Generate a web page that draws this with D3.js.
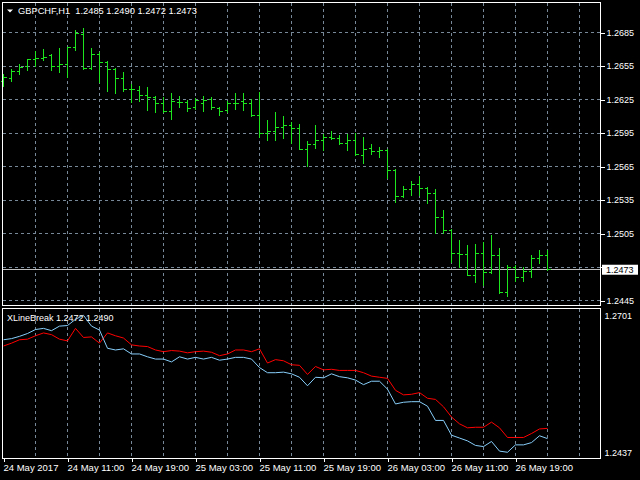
<!DOCTYPE html>
<html>
<head>
<meta charset="utf-8">
<script src="https://cdn.jsdelivr.net/npm/d3@7/dist/d3.min.js"></script>
<style>
  html, body { margin: 0; padding: 0; background: #000; }
  svg { display: block; }
  text { font-family: 'Liberation Sans', Arial, sans-serif; fill: #fff; }
</style>
</head>
<body>
<svg id="chart" width="640" height="480"></svg>
<script>
/* ---- data ---- */
const symbol = 'GBPCHF,H1';

const opens = [
  1.2641, 1.2644, 1.2650, 1.2655, 1.2661, 1.2662, 1.2664, 1.2655, 1.2656, 1.2672,
  1.2683, 1.2653, 1.2665, 1.2658, 1.2652, 1.2644, 1.2634, 1.2633, 1.2629, 1.2627,
  1.2621, 1.2614, 1.2622, 1.2622, 1.2618, 1.2621, 1.2625, 1.2617, 1.2615, 1.2621,
  1.2623, 1.2621, 1.2611, 1.2595, 1.2596, 1.2600, 1.2602, 1.2599, 1.2580, 1.2585,
  1.2588, 1.2591, 1.2590, 1.2586, 1.2588, 1.2575, 1.2581, 1.2578, 1.2579, 1.2561,
  1.2538, 1.2544, 1.2549, 1.2545, 1.2541, 1.2519, 1.2508, 1.2487, 1.2486, 1.2467,
  1.2487, 1.2470, 1.2485, 1.2452, 1.2475, 1.2466, 1.2471, 1.2483, 1.2485
];
const highs = [
  1.2647, 1.2652, 1.2656, 1.2661, 1.2668, 1.2670, 1.2665, 1.2671, 1.2672, 1.2687,
  1.2689, 1.2671, 1.2667, 1.2659, 1.2653, 1.2649, 1.2638, 1.2637, 1.2636, 1.2628,
  1.2627, 1.2630, 1.2628, 1.2624, 1.2626, 1.2628, 1.2627, 1.2618, 1.2623, 1.2630,
  1.2630, 1.2625, 1.2631, 1.2606, 1.2613, 1.2610, 1.2604, 1.2603, 1.2587, 1.2602,
  1.2594, 1.2596, 1.2593, 1.2594, 1.2595, 1.2591, 1.2585, 1.2582, 1.2580, 1.2562,
  1.2547, 1.2552, 1.2556, 1.2546, 1.2544, 1.2526, 1.2509, 1.2499, 1.2494, 1.2495,
  1.2497, 1.2503, 1.2492, 1.2476, 1.2476, 1.2475, 1.2485, 1.2490, 1.2490
];
const lows = [
  1.2637, 1.2641, 1.2647, 1.2651, 1.2655, 1.2660, 1.2651, 1.2649, 1.2645, 1.2669,
  1.2652, 1.2652, 1.2640, 1.2632, 1.2630, 1.2632, 1.2622, 1.2623, 1.2615, 1.2613,
  1.2613, 1.2607, 1.2618, 1.2614, 1.2616, 1.2614, 1.2616, 1.2611, 1.2613, 1.2616,
  1.2615, 1.2610, 1.2591, 1.2588, 1.2588, 1.2590, 1.2586, 1.2580, 1.2565, 1.2581,
  1.2579, 1.2589, 1.2585, 1.2579, 1.2575, 1.2568, 1.2576, 1.2573, 1.2554, 1.2533,
  1.2537, 1.2539, 1.2539, 1.2532, 1.2505, 1.2505, 1.2479, 1.2475, 1.2467, 1.2461,
  1.2458, 1.2469, 1.2451, 1.2449, 1.2462, 1.2462, 1.2466, 1.2478, 1.2472
];
const closes = [
  1.2645, 1.2650, 1.2654, 1.2661, 1.2662, 1.2663, 1.2655, 1.2656, 1.2672, 1.2684,
  1.2653, 1.2665, 1.2658, 1.2652, 1.2644, 1.2634, 1.2634, 1.2629, 1.2627, 1.2621,
  1.2614, 1.2623, 1.2622, 1.2617, 1.2624, 1.2624, 1.2618, 1.2614, 1.2621, 1.2621,
  1.2621, 1.2611, 1.2595, 1.2596, 1.2600, 1.2602, 1.2599, 1.2580, 1.2585, 1.2588,
  1.2591, 1.2590, 1.2586, 1.2588, 1.2576, 1.2580, 1.2578, 1.2579, 1.2561, 1.2538,
  1.2544, 1.2549, 1.2545, 1.2541, 1.2519, 1.2508, 1.2487, 1.2486, 1.2467, 1.2487,
  1.2470, 1.2485, 1.2452, 1.2475, 1.2466, 1.2471, 1.2483, 1.2485, 1.2473
];

// XLineBreak buffers
const lineBlue = [
  1.2646, 1.2648, 1.2652, 1.2657, 1.2664, 1.2666, 1.2662, 1.2670, 1.2671, 1.2682,
  1.2689, 1.2670, 1.2663, 1.2631, 1.2628, 1.2630, 1.2621, 1.2621, 1.2616, 1.2612,
  1.2612, 1.2607, 1.2616, 1.2612, 1.2615, 1.2612, 1.2615, 1.2610, 1.2612, 1.2615,
  1.2615, 1.2612, 1.2597, 1.2588, 1.2588, 1.2589, 1.2586, 1.2580, 1.2565, 1.2580,
  1.2579, 1.2586, 1.2581, 1.2579, 1.2575, 1.2567, 1.2573, 1.2573, 1.2559, 1.2533,
  1.2536, 1.2537, 1.2537, 1.2529, 1.2504, 1.2504, 1.2478, 1.2473, 1.2468, 1.2460,
  1.2458, 1.2467, 1.2450, 1.2448, 1.2461, 1.2461, 1.2465, 1.2477, 1.2472
];
const lineRed = [
  1.2635, 1.2640, 1.2646, 1.2647, 1.2653, 1.2658, 1.2655, 1.2647, 1.2644, 1.2666,
  1.2650, 1.2651, 1.2640, 1.2658, 1.2653, 1.2649, 1.2637, 1.2635, 1.2634, 1.2628,
  1.2625, 1.2627, 1.2626, 1.2623, 1.2625, 1.2626, 1.2624, 1.2618, 1.2621, 1.2628,
  1.2628, 1.2625, 1.2630, 1.2605, 1.2611, 1.2609, 1.2602, 1.2601, 1.2585, 1.2599,
  1.2593, 1.2594, 1.2592, 1.2592, 1.2592, 1.2588, 1.2582, 1.2580, 1.2578, 1.2557,
  1.2549, 1.2550, 1.2553, 1.2543, 1.2541, 1.2528, 1.2510, 1.2498, 1.2491, 1.2492,
  1.2492, 1.2501, 1.2491, 1.2474, 1.2474, 1.2474, 1.2481, 1.2489, 1.2490
];

const priceTicks = [1.2685, 1.2655, 1.2625, 1.2595, 1.2565, 1.2535, 1.2505, 1.2475, 1.2445];
const indRange = [1.2437, 1.2701];
const timeBars = [0, 8, 16, 24, 32, 40, 48, 56, 64];
const timeLabels = ['24 May 2017', '24 May 11:00', '24 May 19:00', '25 May 03:00', '25 May 11:00',
                    '25 May 19:00', '26 May 03:00', '26 May 11:00', '26 May 19:00'];

/* ---- layout ---- */
const LEFT = 2.5, RIGHT = 600.5;
const MAIN_TOP = 2.5, MAIN_BOTTOM = 305.5;
const IND_TOP = 308.5, IND_BOTTOM = 458.5;
const GRID = '#778899';
const BAR = '#1ee61e';

const svg = d3.select('#chart');
svg.append('rect').attr('width', 640).attr('height', 480).attr('fill', '#000');

const x = d3.scaleLinear().domain([0, 72]).range([3.5, 579.5]);
const yMain = d3.scaleLinear().domain([1.2445, 1.2685]).range([300.5, 32.5]);
const yInd = d3.scaleLinear().domain(indRange).range([IND_BOTTOM, IND_TOP]);
const fmt = d3.format('.4f');

// grid
const grid = svg.append('g').attr('stroke', GRID).attr('stroke-dasharray', '3,3')
  .attr('shape-rendering', 'crispEdges');
grid.selectAll('.hg').data(priceTicks).join('line')
  .attr('x1', LEFT).attr('x2', RIGHT)
  .attr('y1', d => yMain(d)).attr('y2', d => yMain(d));
const vBars = d3.range(4, 73, 4);
grid.selectAll('.vm').data(vBars).join('line')
  .attr('x1', d => x(d)).attr('x2', d => x(d))
  .attr('y1', MAIN_TOP).attr('y2', MAIN_BOTTOM);
grid.selectAll('.vi').data(vBars).join('line')
  .attr('x1', d => x(d)).attr('x2', d => x(d))
  .attr('y1', IND_TOP).attr('y2', IND_BOTTOM);

// current price line
const last = closes[closes.length - 1];
svg.append('line')
  .attr('x1', LEFT).attr('x2', RIGHT)
  .attr('y1', yMain(last)).attr('y2', yMain(last))
  .attr('stroke', '#c0c0c0').attr('shape-rendering', 'crispEdges');

// OHLC bars
const idx = d3.range(closes.length);
const bars = svg.append('g').attr('stroke', BAR).attr('shape-rendering', 'crispEdges');
bars.selectAll('.hl').data(idx).join('line')
  .attr('x1', i => x(i)).attr('x2', i => x(i))
  .attr('y1', i => yMain(highs[i]) - 0.5).attr('y2', i => yMain(lows[i]) + 0.5);
bars.selectAll('.op').data(idx).join('line')
  .attr('x1', i => x(i) - 3).attr('x2', i => x(i))
  .attr('y1', i => yMain(opens[i])).attr('y2', i => yMain(opens[i]));
bars.selectAll('.cl').data(idx).join('line')
  .attr('x1', i => x(i)).attr('x2', i => x(i) + 3)
  .attr('y1', i => yMain(closes[i])).attr('y2', i => yMain(closes[i]));

// indicator lines
const line = d3.line().x((d, i) => x(i)).y(d => yInd(d));
svg.append('path').datum(lineRed).attr('d', line)
  .attr('fill', 'none').attr('stroke', '#ff0000').attr('stroke-width', 1);
svg.append('path').datum(lineBlue).attr('d', line)
  .attr('fill', 'none').attr('stroke', '#87cefa').attr('stroke-width', 1);

// frames
svg.append('g').attr('fill', 'none').attr('stroke', '#fff').attr('shape-rendering', 'crispEdges')
  .selectAll('rect')
  .data([[MAIN_TOP, MAIN_BOTTOM], [IND_TOP, IND_BOTTOM]])
  .join('rect')
  .attr('x', LEFT).attr('y', d => d[0])
  .attr('width', RIGHT - LEFT).attr('height', d => d[1] - d[0]);

// price axis
const yAxis = svg.append('g')
  .attr('transform', `translate(${RIGHT},0)`)
  .call(d3.axisRight(yMain).tickValues(priceTicks).tickSize(4).tickPadding(2).tickFormat(fmt));
yAxis.select('.domain').remove();
yAxis.selectAll('line').attr('stroke', '#fff').attr('shape-rendering', 'crispEdges');
yAxis.selectAll('text').attr('fill', '#fff').attr('font-size', '9px')
  .attr('font-family', "'Liberation Sans', Arial, sans-serif")
  .style('display', d => Math.abs(yMain(d) - yMain(last)) < 8 ? 'none' : null);

// current price tag
svg.append('rect')
  .attr('x', 602).attr('y', yMain(last) - 4.5)
  .attr('width', 36).attr('height', 10).attr('fill', '#fff');
svg.append('text')
  .attr('x', 606).attr('y', yMain(last) + 3.5)
  .attr('font-size', '9px').style('fill', '#000')
  .text(fmt(last));

// indicator scale labels
svg.append('text').attr('x', 604.5).attr('y', yInd(indRange[1]) + 10)
  .attr('font-size', '9px').text(fmt(indRange[1]));
svg.append('text').attr('x', 604.5).attr('y', yInd(indRange[0]) - 2.5)
  .attr('font-size', '9px').text(fmt(indRange[0]));

// time axis
const xAxis = svg.append('g')
  .attr('transform', `translate(0,${IND_BOTTOM})`)
  .call(d3.axisBottom(x).tickValues(timeBars).tickSize(3).tickPadding(3)
    .tickFormat((d, i) => timeLabels[i]));
xAxis.select('.domain').remove();
xAxis.selectAll('line').attr('stroke', '#fff').attr('shape-rendering', 'crispEdges');
xAxis.selectAll('text').attr('fill', '#fff').attr('font-size', '9.5px')
  .attr('font-family', "'Liberation Sans', Arial, sans-serif")
  .attr('text-anchor', 'start').attr('x', -0.5);

// titles
svg.append('path').attr('d', 'M7,9.5 L13,9.5 L10,12.5 Z').attr('fill', '#fff');
svg.append('text').attr('x', 18).attr('y', 13.5).attr('font-size', '9.3px')
  .style('white-space', 'pre')
  .text(`${symbol}  ${fmt(opens[68])} ${fmt(highs[68])} ${fmt(lows[68])} ${fmt(closes[68])}`);
svg.append('text').attr('x', 7).attr('y', 320.5).attr('font-size', '9px')
  .text(`XLineBreak ${fmt(lineBlue[68])} ${fmt(lineRed[68])}`);
</script>
</body>
</html>
